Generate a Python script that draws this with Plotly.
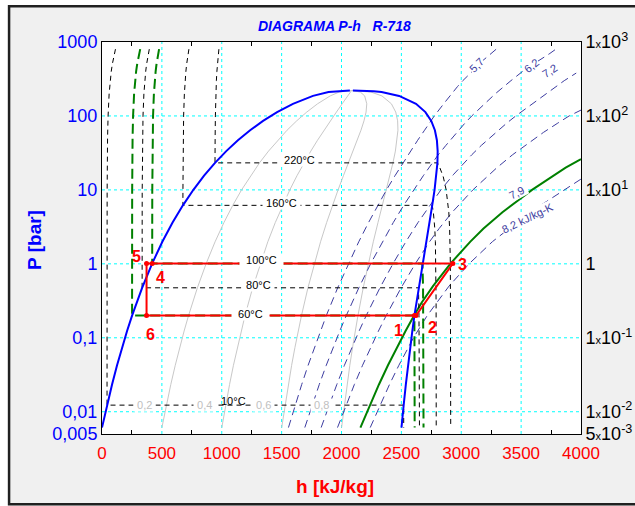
import plotly.graph_objects as go

# ---------------- data ----------------
# saturation dome (P in bar, h in kJ/kg)
SAT_P = [0.00611, 0.01228, 0.02339, 0.04247, 0.07384, 0.1235, 0.1995, 0.4741, 1.0142, 1.9867,
         3.6154, 6.1823, 10.028, 15.549, 23.196, 33.469, 46.923, 64.166, 85.879, 112.84,
         145.99, 186.66, 210.44]
SAT_HF = [0.0, 42.0, 83.9, 125.7, 167.5, 209.3, 251.1, 335.0, 419.2, 503.8,
          589.2, 675.6, 763.1, 852.3, 943.6, 1037.6, 1135.0, 1236.9, 1345.0, 1462.2,
          1594.5, 1761.7, 1891.7]
SAT_HG = [2500.9, 2519.2, 2537.4, 2555.6, 2573.5, 2591.3, 2608.8, 2643.0, 2675.6, 2706.0,
          2733.5, 2757.4, 2777.2, 2792.0, 2801.1, 2803.0, 2796.6, 2779.9, 2749.6, 2700.6,
          2622.2, 2481.5, 2334.5]
CRIT_LIQ_P = [215.7, 218.8, 220.3]
CRIT_LIQ_H = [1961.0, 2020.0, 2070.0]
CRIT_VAP_P = [220.3, 219.8, 216.0]
CRIT_VAP_H = [2095.0, 2180.0, 2270.0]

# constant-quality lines
QUAL_P = SAT_P + [220.64]
Q02_H = [500.2, 537.4, 574.6, 611.7, 648.7, 685.7, 722.6, 796.6, 870.5, 944.2, 1018.1, 1092.0,
         1165.9, 1240.2, 1315.1, 1390.7, 1467.3, 1545.5, 1625.9, 1709.9, 1800.0, 1905.7, 1980.3, 2084.3]
Q04_H = [1000.4, 1032.9, 1065.3, 1097.6, 1129.9, 1162.1, 1194.2, 1258.2, 1321.8, 1384.6, 1446.9, 1508.4,
         1568.8, 1628.2, 1686.6, 1743.8, 1799.6, 1854.1, 1906.8, 1957.6, 2005.6, 2049.6, 2068.8, 2084.3]
Q06_H = [1500.5, 1528.3, 1556.0, 1583.6, 1611.1, 1638.5, 1665.7, 1719.8, 1773.0, 1825.1, 1875.8, 1924.7,
         1971.6, 2016.1, 2058.1, 2096.8, 2132.0, 2162.7, 2187.8, 2205.2, 2211.1, 2193.6, 2157.4, 2084.3]
Q08_H = [2000.7, 2023.8, 2046.7, 2069.5, 2092.3, 2114.9, 2137.3, 2181.4, 2224.3, 2265.5, 2304.6, 2341.1,
         2374.5, 2404.1, 2429.6, 2449.9, 2464.3, 2471.3, 2468.7, 2452.9, 2416.7, 2337.5, 2245.9, 2084.3]
QUAL_LABELS = ["0,2", "0,4", "0,6", "0,8"]
QUAL_LABEL_H = [352, 852, 1347, 1833]

# isentropes (kJ/kg-K)
S57_P = [0.00611, 0.01228, 0.02339, 0.04247, 0.07384, 0.1235, 0.1995, 0.4741, 1.0142, 1.9867, 3.6154,
         6.1823, 10.028, 15.549, 23.196, 33.469, 46.923, 64.166, 85.879, 100, 150, 200, 250, 300,
         400, 500, 600, 700, 800]
S57_H = [1557.0, 1613.1, 1667.9, 1721.2, 1773.2, 1823.9, 1873.1, 1968.1, 2058.4, 2144.0, 2225.6,
         2302.7, 2375.9, 2446.5, 2513.1, 2576.0, 2636.1, 2693.8, 2746.2, 2775, 2859, 2919, 2969, 3013,
         3092, 3144, 3200, 3250, 3292]
S62_P = [0.00611, 0.01228, 0.02339, 0.04247, 0.07384, 0.1235, 0.1995, 0.4741, 1.0142, 1.9867, 3.6154,
         6.1823, 10.028, 15.549, 23.196, 29.0, 40, 50, 60, 80, 100, 150, 200, 300, 400, 500, 600, 700, 800]
S62_H = [1693.5, 1754.7, 1814.5, 1872.8, 1929.8, 1985.5, 2039.7, 2144.7, 2244.9, 2340.6, 2432.2,
         2519.2, 2602.4, 2683.1, 2759.7, 2802, 2872, 2921, 2963, 3031, 3088, 3203, 3285, 3415, 3512,
         3600, 3680, 3740, 3790]
S67_P = [0.00611, 0.01228, 0.02339, 0.04247, 0.07384, 0.1235, 0.1995, 0.4741, 1.0142, 1.9867, 3.6154,
         6.1823, 7.0, 10, 16, 20, 30, 40, 60, 80, 100, 150, 200, 300, 380]
S67_H = [1830.1, 1896.3, 1961.0, 2024.4, 2086.4, 2147.0, 2206.3, 2321.2, 2431.5, 2537.2, 2638.7,
         2735.8, 2763, 2830, 2933, 2987, 3089, 3168, 3288, 3380, 3455, 3605, 3712, 3860, 3960]
S72_P = [0.00611, 0.01228, 0.02339, 0.04247, 0.07384, 0.1235, 0.1995, 0.4741, 1.0142, 1.64, 2, 3, 5,
         10, 20, 30, 40, 60, 80, 100, 120]
S72_H = [1966.7, 2037.9, 2107.6, 2175.9, 2243.0, 2308.6, 2372.9, 2497.8, 2618.1, 2697, 2736, 2815,
         2925, 3097, 3298, 3430, 3535, 3687, 3806, 3901, 4000]
S79_P = [0.00611, 0.01228, 0.02339, 0.04247, 0.07384, 0.1235, 0.1995, 0.3, 0.5, 1, 2, 3, 5, 10, 20, 26]
S79_H = [2157.9, 2236.1, 2312.8, 2388.1, 2462.1, 2534.8, 2606.1, 2670, 2764, 2908, 3076, 3186, 3344,
         3591, 3872, 4000]
S82_P = [0.00611, 0.01228, 0.02339, 0.04247, 0.07384, 0.087, 0.1, 0.2, 0.5, 1, 2, 5, 10, 14]
S82_H = [2239.9, 2321.0, 2400.8, 2479.1, 2556.1, 2579, 2601, 2716, 2898, 3065, 3261, 3575, 3854, 4000]

# isotherms: compressed-liquid part (top -> saturation), then vapour part (saturation -> bottom)
LIQ_P = [800, 700, 600, 500, 400, 300, 200, 100, 50, 10]
T10_LIQ_H = [112.4, 103.6, 94.8, 86.0, 77.2, 68.4, 59.6, 50.8, 46.4, 42.9]
T60_LIQ_H = [319.0, 310.5, 302.0, 293.5, 285.0, 276.5, 268.0, 259.5, 255.3, 251.9]
T80_LIQ_H = [394.9, 387.4, 379.9, 372.4, 364.9, 357.4, 349.9, 342.4, 338.7, 335.7]
T100_LIQ_H = [476.7, 469.5, 462.3, 455.1, 447.9, 440.7, 433.5, 426.3, 422.7, 419.8]
T160_LIQ_H = [725.7, 719.4, 713.1, 706.8, 700.5, 694.2, 687.9, 681.6, 678.4, 675.8]
T220_LIQ_P = [800, 700, 600, 500, 400, 300, 200, 100, 50]
T220_LIQ_H = [976.2, 972.0, 967.8, 963.6, 959.4, 955.2, 951.0, 946.8, 944.7]

T10_VAP_P = [0.01228, 0.00611]
T10_VAP_H = [2519.2, 2519.6]
T60_VAP_P = [0.1995, 0.1, 0.03, 0.00611]
T60_VAP_H = [2608.8, 2610.0, 2611.0, 2611.0]
T80_VAP_P = [0.4741, 0.2, 0.05, 0.00611]
T80_VAP_H = [2643.0, 2647.0, 2650.0, 2651.0]
T100_VAP_P = [1.0142, 0.5, 0.1, 0.00611]
T100_VAP_H = [2675.6, 2681.0, 2684.0, 2685.0]
T160_VAP_P = [6.1823, 5, 4, 3, 2, 1, 0.3, 0.00611]
T160_VAP_H = [2757.4, 2767, 2773, 2779, 2784, 2788, 2790, 2791]
T220_VAP_P = [23.196, 20, 15, 10, 5, 3, 1, 0.3, 0.00611]
T220_VAP_H = [2801.1, 2821, 2850, 2874, 2896, 2903, 2909, 2911, 2912]

# cycle points 1..6
CYC_NAMES = ["1", "2", "3", "4", "5", "6"]
CYC_H = [2608.8, 2622.0, 2930.0, 419.2, 372.0, 372.0]
CYC_P = [0.1995, 0.1995, 1.0142, 1.0142, 1.0142, 0.1995]
CYC_LABEL_H = [2480, 2758, 3013, 492, 286, 408]
CYC_LABEL_LOGP = [-0.907, -0.861, -0.004, -0.184, 0.095, -0.951]

# axis ticks
X_RANGE = [0, 4000]
P_RANGE = [0.005, 1000]
X_TICKS = [0, 500, 1000, 1500, 2000, 2500, 3000, 3500, 4000]
X_MINOR = [250, 750, 1250, 1750, 2250, 2750, 3250, 3750]
Y_TICKS = [0.005, 0.01, 0.1, 1, 10, 100, 1000]
Y_LEFT_TEXT = ["0,005", "0,01", "0,1", "1", "10", "100", "1000"]
Y_RIGHT_TEXT = ["5<span style='font-size:11px'>x</span>10<sup>-3</sup>",
                "1<span style='font-size:11px'>x</span>10<sup>-2</sup>",
                "1<span style='font-size:11px'>x</span>10<sup>-1</sup>",
                "1",
                "1<span style='font-size:11px'>x</span>10<sup>1</sup>",
                "1<span style='font-size:11px'>x</span>10<sup>2</sup>",
                "1<span style='font-size:11px'>x</span>10<sup>3</sup>"]

# ---------------- figure ----------------
FONT = "Arial, 'Liberation Sans', sans-serif"
BLUE = "#0000ff"
RED = "#ff0000"
GREEN = "#008000"
ISEN = "#3c3ca0"
QGRAY = "#c8c8c8"
CYAN = "#00ffff"

fig = go.Figure()

def line(h, p, color, width=1.0, dash="solid", yaxis="y"):
    fig.add_trace(go.Scatter(x=h, y=p, mode="lines", line=dict(color=color, width=width, dash=dash),
                             hoverinfo="skip", showlegend=False, yaxis=yaxis))

# grid (cyan dotted) at the labelled ticks
gx, gy = [], []
for v in X_TICKS[1:-1]:
    gx += [v, v, None]
    gy += [P_RANGE[0], P_RANGE[1], None]
for v in Y_TICKS[1:-1]:
    gx += [X_RANGE[0], X_RANGE[1], None]
    gy += [v, v, None]
line(gx, gy, CYAN, 1, "3px,3px")

# quality lines
for qh in (Q02_H, Q04_H, Q06_H, Q08_H):
    line(qh, QUAL_P, QGRAY, 1)

# isentropes
for sh, sp in ((S57_H, S57_P), (S62_H, S62_P), (S67_H, S67_P), (S72_H, S72_P), (S82_H, S82_P)):
    line(sh, sp, ISEN, 1, "8px,5px")
line(S79_H, S79_P, GREEN, 2)

# isotherms
def isotherm(liq_h, liq_p, vap_h, vap_p, color, width, dash):
    line(liq_h + vap_h, liq_p + vap_p, color, width, dash)

BLK_DASH = "5px,4px"
GRN_DASH = "10px,5px"
isotherm(T10_LIQ_H + [42.0], LIQ_P + [0.01228], T10_VAP_H, T10_VAP_P, "black", 1, BLK_DASH)
isotherm(T80_LIQ_H + [335.0], LIQ_P + [0.4741], T80_VAP_H, T80_VAP_P, "black", 1, BLK_DASH)
isotherm(T160_LIQ_H + [675.6], LIQ_P + [6.1823], T160_VAP_H, T160_VAP_P, "black", 1, BLK_DASH)
isotherm(T220_LIQ_H + [943.6], T220_LIQ_P + [23.196], T220_VAP_H, T220_VAP_P, "black", 1, BLK_DASH)
isotherm(T60_LIQ_H + [251.1], LIQ_P + [0.1995], T60_VAP_H, T60_VAP_P, GREEN, 2, GRN_DASH)
isotherm(T100_LIQ_H + [419.2], LIQ_P + [1.0142], T100_VAP_H, T100_VAP_P, GREEN, 2, GRN_DASH)

# saturation dome
line(SAT_HF + CRIT_LIQ_H, SAT_P + CRIT_LIQ_P, BLUE, 2)
line(CRIT_VAP_H + SAT_HG[::-1], CRIT_VAP_P + SAT_P[::-1], BLUE, 2)

# cycle
loop = [0, 1, 2, 3, 4, 5, 0]
line([CYC_H[i] for i in loop], [CYC_P[i] for i in loop], RED, 2)
fig.add_trace(go.Scatter(x=CYC_H, y=CYC_P, mode="markers", marker=dict(color=RED, size=5),
                         hoverinfo="skip", showlegend=False))

# invisible trace for the right axis
fig.add_trace(go.Scatter(x=[1000], y=[1], mode="markers", marker=dict(opacity=0), yaxis="y2",
                         hoverinfo="skip", showlegend=False))

ann = []
def label(text, h, logp, color="black", size=11, angle=0, bg="white", bold=False):
    t = f"<b>{text}</b>" if bold else text
    ann.append(dict(x=h, y=logp, xref="x", yref="y", text=t, showarrow=False, textangle=angle,
                    xanchor="center", yanchor="middle",
                    font=dict(family=FONT, size=size, color=color), bgcolor=bg, borderpad=0))

# temperature labels
label("\u00a0220°C\u00a0", 1653, 1.40)
label("\u00a0160°C\u00a0", 1500, 0.82)
label("\u00a0\u00a0100°C\u00a0\u00a0", 1333, 0.05)
label("\u00a080°C\u00a0", 1305, -0.28)
label("\u00a0\u00a060°C\u00a0\u00a0", 1236, -0.68)
label("10°C", 1097, -1.86, bg=None)
for qt, qx in zip(QUAL_LABELS, QUAL_LABEL_H):
    label("\u00a0" + qt + "\u00a0", qx, -1.911, color="#c0c0c0")

# isentrope labels
label("5,7", 3130, 2.689, color=ISEN, angle=-45)
label("6,2", 3583, 2.675, color=ISEN, angle=-38)
label("7,2", 3736, 2.612, color=ISEN, angle=-33)
label("\u00a07,9\u00a0", 3458, 0.961, color=ISEN, angle=-28)
label("8,2 kJ/kg-K", 3555, 0.614, color=ISEN, angle=-26)

# cycle labels
for n, lh, lp in zip(CYC_NAMES, CYC_LABEL_H, CYC_LABEL_LOGP):
    label(n, lh, lp, color=RED, size=16, bg=None, bold=True)

# titles
ann.append(dict(x=0.486, y=1.041, xref="paper", yref="paper", showarrow=False,
                xanchor="center", yanchor="middle",
                text="<b><i>DIAGRAMA P-h\u00a0\u00a0\u00a0R-718</i></b>",
                font=dict(family=FONT, size=14, color=BLUE)))
ann.append(dict(x=-0.14, y=0.495, xref="paper", yref="paper", showarrow=False, textangle=-90,
                xanchor="center", yanchor="middle",
                text="<b>P [bar]</b>", font=dict(family=FONT, size=19, color=BLUE)))
ann.append(dict(x=0.486, y=-0.135, xref="paper", yref="paper", showarrow=False,
                xanchor="center", yanchor="middle",
                text="<b>h [kJ/kg]</b>", font=dict(family=FONT, size=19, color=RED)))

shapes = [
    dict(type="rect", xref="paper", yref="paper", x0=-0.3, x1=-0.196, y0=-0.3, y1=1.3,
         fillcolor="white", line=dict(width=0), layer="below"),
    dict(type="rect", xref="paper", yref="paper", x0=-0.3, x1=1.3, y0=1.094, y1=1.3,
         fillcolor="white", line=dict(width=0), layer="below"),
    dict(type="rect", xref="paper", yref="paper", x0=-0.194, x1=1.3, y0=-0.179, y1=1.091,
         line=dict(color="#202020", width=2.5), layer="below"),
]

fig.update_layout(
    template="none",
    width=635, height=506,
    margin=dict(l=102, r=54, t=42, b=72),
    paper_bgcolor="#f0f0f0", plot_bgcolor="white",
    showlegend=False,
    annotations=ann, shapes=shapes,
    xaxis=dict(range=X_RANGE, tickvals=X_TICKS, ticktext=[str(v) for v in X_TICKS],
               tickfont=dict(family=FONT, size=17, color=RED), ticks="",
               showgrid=False,
               showline=True, linecolor="black", linewidth=1, mirror="allticks",
               minor=dict(tickvals=X_MINOR, ticks="inside", ticklen=4, tickcolor="black", showgrid=False),
               zeroline=False, ticklabelstandoff=4),
    yaxis=dict(type="log", range=[-2.30103, 3], tickvals=Y_TICKS, ticktext=Y_LEFT_TEXT,
               tickfont=dict(family=FONT, size=18, color=BLUE), ticks="",
               showgrid=False,
               showline=True, linecolor="black", linewidth=1, mirror=True, zeroline=False),
    yaxis2=dict(type="log", range=[-2.30103, 3], overlaying="y", side="right",
                tickvals=Y_TICKS, ticktext=Y_RIGHT_TEXT, ticks="",
                tickfont=dict(family=FONT, size=18, color="black"),
                showgrid=False, showline=True, linecolor="black", zeroline=False),
)

fig.write_html("out.html")
